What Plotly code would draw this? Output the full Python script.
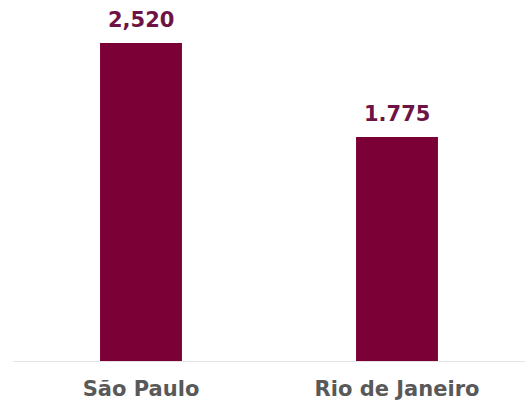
import plotly.graph_objects as go

categories = ["São Paulo", "Rio de Janeiro"]
values = [2520, 1775]
value_labels = ["2,520", "1.775"]

fig = go.Figure(go.Bar(
    x=categories, y=values,
    marker=dict(color="#7b0036", line=dict(width=0)),
    hoverinfo="skip",
))
for c, v, t in zip(categories, values, value_labels):
    fig.add_annotation(x=c, y=v, text=f"<b>{t}</b>", showarrow=False,
                       yanchor="bottom", yshift=9,
                       font=dict(family="DejaVu Sans", size=21, color="#6e1445"))
fig.update_layout(
    width=525, height=409,
    margin=dict(l=13, r=0, t=0, b=48),
    paper_bgcolor="white", plot_bgcolor="white",
    bargap=0.68, showlegend=False,
    xaxis=dict(showline=True, linecolor="#e3e3e3", linewidth=1,
               tickfont=dict(family="DejaVu Sans", size=21, color="#595959"),
               ticks="", showgrid=False, ticklabelstandoff=9,
               tickvals=categories, ticktext=[f"<b>{c}</b>" for c in categories]),
    yaxis=dict(visible=False, range=[0, 2860], showgrid=False, zeroline=False),
    font=dict(family="DejaVu Sans"),
)
fig.write_html("out.html")
